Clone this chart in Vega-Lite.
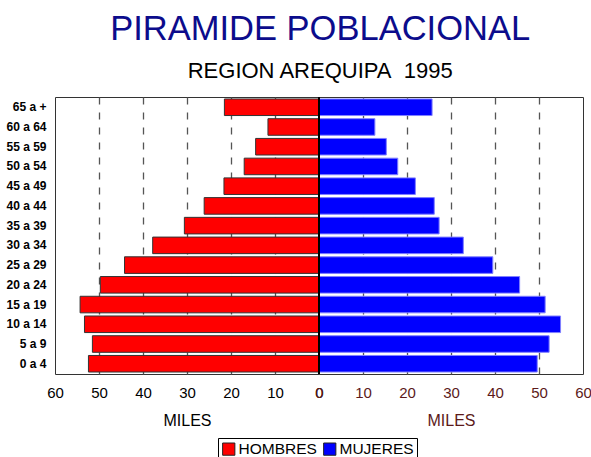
{
  "$schema": "https://vega.github.io/schema/vega-lite/v6.json",
  "background": "white",
  "padding": {"left": 0, "top": 12, "right": 0, "bottom": 0},
  "bounds": "flush",
  "title": {
    "text": "PIRAMIDE POBLACIONAL",
    "subtitle": "REGION AREQUIPA\u00a0 1995\u00a0\u00a0\u00a0\u00a0\u00a0",
    "fontSize": 34.5,
    "fontWeight": "normal",
    "color": "#0c0c8c",
    "subtitleFontSize": 22,
    "subtitleColor": "#000000",
    "subtitlePadding": 13,
    "anchor": "middle",
    "dx": 24,
    "offset": 13
  },
  "data": {
    "values": [
      {"edad": "65 a +", "sexo": "HOMBRES", "miles": 21.5},
      {"edad": "60 a 64", "sexo": "HOMBRES", "miles": 11.6},
      {"edad": "55 a 59", "sexo": "HOMBRES", "miles": 14.4},
      {"edad": "50 a 54", "sexo": "HOMBRES", "miles": 17.0},
      {"edad": "45 a 49", "sexo": "HOMBRES", "miles": 21.6},
      {"edad": "40 a 44", "sexo": "HOMBRES", "miles": 26.1},
      {"edad": "35 a 39", "sexo": "HOMBRES", "miles": 30.6},
      {"edad": "30 a 34", "sexo": "HOMBRES", "miles": 37.8},
      {"edad": "25 a 29", "sexo": "HOMBRES", "miles": 44.2},
      {"edad": "20 a 24", "sexo": "HOMBRES", "miles": 49.7},
      {"edad": "15 a 19", "sexo": "HOMBRES", "miles": 54.3},
      {"edad": "10 a 14", "sexo": "HOMBRES", "miles": 53.3},
      {"edad": "5 a 9", "sexo": "HOMBRES", "miles": 51.5},
      {"edad": "0 a 4", "sexo": "HOMBRES", "miles": 52.4},
      {"edad": "65 a +", "sexo": "MUJERES", "miles": 25.7},
      {"edad": "60 a 64", "sexo": "MUJERES", "miles": 12.7},
      {"edad": "55 a 59", "sexo": "MUJERES", "miles": 15.3},
      {"edad": "50 a 54", "sexo": "MUJERES", "miles": 17.9},
      {"edad": "45 a 49", "sexo": "MUJERES", "miles": 21.9},
      {"edad": "40 a 44", "sexo": "MUJERES", "miles": 26.2},
      {"edad": "35 a 39", "sexo": "MUJERES", "miles": 27.3},
      {"edad": "30 a 34", "sexo": "MUJERES", "miles": 32.8},
      {"edad": "25 a 29", "sexo": "MUJERES", "miles": 39.5},
      {"edad": "20 a 24", "sexo": "MUJERES", "miles": 45.6},
      {"edad": "15 a 19", "sexo": "MUJERES", "miles": 51.4},
      {"edad": "10 a 14", "sexo": "MUJERES", "miles": 54.9},
      {"edad": "5 a 9", "sexo": "MUJERES", "miles": 52.3},
      {"edad": "0 a 4", "sexo": "MUJERES", "miles": 49.6}
    ]
  },
  "spacing": 0,
  "hconcat": [
    {
      "width": 264,
      "height": 277,
      "transform": [{"filter": "datum.sexo == 'HOMBRES'"}],
      "layer": [
        {
          "mark": {"type": "bar", "stroke": "#333333", "strokeWidth": 1},
          "encoding": {
            "y": {
              "field": "edad", "type": "nominal",
              "sort": ["65 a +", "60 a 64", "55 a 59", "50 a 54", "45 a 49", "40 a 44", "35 a 39", "30 a 34", "25 a 29", "20 a 24", "15 a 19", "10 a 14", "5 a 9", "0 a 4"],
              "scale": {"paddingInner": 0.16, "paddingOuter": 0.1},
              "axis": {"title": null, "labelFontWeight": "bold", "labelFontSize": 12, "labelColor": "#000000", "ticks": false, "tickSize": 0, "domain": false, "grid": false, "labelPadding": 9, "minExtent": 54, "maxExtent": 54}
            },
            "x": {
              "field": "miles", "type": "quantitative",
              "scale": {"domain": [0, 60], "reverse": true, "nice": false},
              "axis": {"values": [0, 10, 20, 30, 40, 50, 60], "title": "MILES", "labelColor": "#000000", "titleColor": "#000000"}
            },
            "color": {
              "field": "sexo", "type": "nominal",
              "scale": {"domain": ["HOMBRES", "MUJERES"], "range": ["#ff0000", "#0000ff"]},
              "legend": {"orient": "none", "legendX": 163, "legendY": 341, "direction": "horizontal", "title": null}
            }
          }
        },
        {
          "mark": {"type": "rule", "color": "#000000", "strokeWidth": 2},
          "encoding": {"x": {"datum": 0}}
        }
      ]
    },
    {
      "width": 264,
      "height": 277,
      "transform": [{"filter": "datum.sexo == 'MUJERES'"}],
      "layer": [
        {
          "mark": {"type": "bar", "stroke": "#8080ff", "strokeWidth": 1},
          "encoding": {
            "y": {
              "field": "edad", "type": "nominal",
              "sort": ["65 a +", "60 a 64", "55 a 59", "50 a 54", "45 a 49", "40 a 44", "35 a 39", "30 a 34", "25 a 29", "20 a 24", "15 a 19", "10 a 14", "5 a 9", "0 a 4"],
              "scale": {"paddingInner": 0.16, "paddingOuter": 0.1},
              "axis": null
            },
            "x": {
              "field": "miles", "type": "quantitative",
              "scale": {"domain": [0, 60], "nice": false},
              "axis": {"values": [0, 10, 20, 30, 40, 50, 60], "title": "MILES", "labelColor": "#5c1a1a", "titleColor": "#5c1a1a"}
            },
            "color": {
              "field": "sexo", "type": "nominal",
              "scale": {"domain": ["HOMBRES", "MUJERES"], "range": ["#ff0000", "#0000ff"]}
            }
          }
        },
        {
          "mark": {"type": "rule", "color": "#000000", "strokeWidth": 2},
          "encoding": {"x": {"datum": 0}}
        }
      ]
    }
  ],
  "resolve": {"scale": {"color": "shared"}, "legend": {"color": "shared"}},
  "config": {
    "font": "Liberation Sans, Arial, sans-serif",
    "view": {"stroke": "#333333", "strokeWidth": 1},
    "axisX": {
      "labelFontSize": 15,
      "titleFontSize": 16,
      "titleFontWeight": "normal",
      "ticks": false,
      "tickSize": 0,
      "domain": false,
      "labelPadding": 11,
      "titlePadding": 12,
      "labelFlush": false,
      "labelOverlap": false,
      "grid": true,
      "gridDash": [7, 8],
      "gridColor": {"condition": {"test": "datum.value == 0 || datum.value == 60", "value": "transparent"}, "value": "#555555"},
      "gridWidth": 1.3
    },
    "legend": {
      "strokeColor": "#000000",
      "padding": 3,
      "labelFontSize": 15.5,
      "labelColor": "#000000",
      "symbolType": "square",
      "symbolSize": 150,
      "symbolStrokeColor": "#222222",
      "symbolStrokeWidth": 1,
      "symbolOpacity": 1,
      "columnPadding": 4,
      "labelOffset": 2,
      "fillColor": "white"
    }
  }
}
